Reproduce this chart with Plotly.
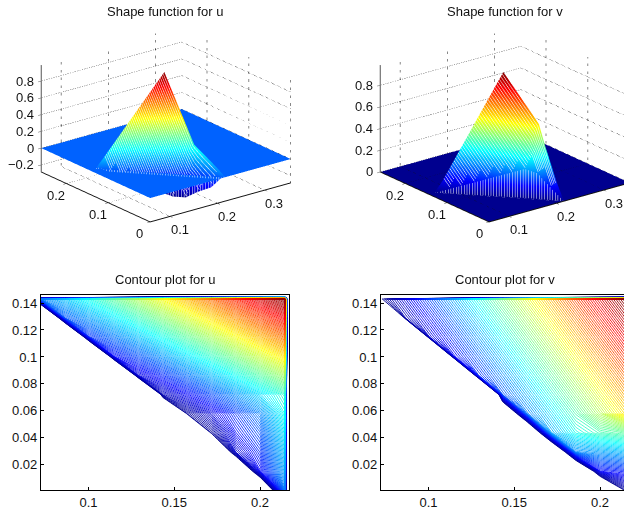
import plotly.graph_objects as go

W, H = 680, 517
JET = [[0, "rgb(0,0,143)"], [0.125, "rgb(0,0,255)"], [0.375, "rgb(0,255,255)"],
       [0.625, "rgb(255,255,0)"], [0.875, "rgb(255,0,0)"], [1, "rgb(128,0,0)"]]

# grid nodes
x_nodes = [0.0723, 0.0865, 0.1007, 0.1149, 0.1291, 0.1433, 0.1575, 0.1717, 0.1859, 0.2001, 0.2145]
y_nodes = [0.001, 0.0152, 0.0294, 0.0436, 0.058, 0.072, 0.0862, 0.1004, 0.1146, 0.1288, 0.143]
x_edge, y_edge = 0.2166, 0.1458
N = None

# rows run bottom to top, None = outside the triangle
u_table = [
    [N, N, N, N, N, N, N, N, N, N, 0.02],
    [N, N, N, N, N, N, N, N, N, -0.13, 0.07],
    [N, N, N, N, N, N, N, N, -0.19, -0.08, 0.11],
    [N, N, N, N, N, N, N, -0.27, -0.12, -0.03, 0.15],
    [N, N, N, N, N, N, -0.27, -0.17, -0.07, 0.03, 0.19],
    [N, N, N, N, N, -0.225, -0.134, -0.043, 0.048, 0.139, 0.23],
    [N, N, N, N, -0.176, -0.085, 0.006, 0.097, 0.188, 0.279, 0.37],
    [N, N, N, -0.127, -0.036, 0.055, 0.146, 0.237, 0.328, 0.419, 0.51],
    [N, N, -0.078, 0.013, 0.104, 0.195, 0.286, 0.377, 0.468, 0.559, 0.65],
    [N, -0.029, 0.062, 0.153, 0.244, 0.335, 0.426, 0.517, 0.608, 0.699, 0.79],
    [0.02, 0.111, 0.202, 0.293, 0.384, 0.475, 0.566, 0.657, 0.748, 0.839, 0.93],
]
v_table = [
    [N, N, N, N, N, N, N, N, N, N, 0.01],
    [N, N, N, N, N, N, N, N, N, 0.121, 0.146],
    [N, N, N, N, N, N, N, N, 0.242, 0.267, 0.292],
    [N, N, N, N, N, N, N, 0.273, 0.367, 0.414, 0.439],
    [N, N, N, N, N, N, 0.234, 0.328, 0.422, 0.516, 0.61],
    [N, N, N, N, N, 0.195, 0.289, 0.383, 0.477, 0.571, 0.665],
    [N, N, N, N, 0.156, 0.25, 0.344, 0.438, 0.532, 0.626, 0.72],
    [N, N, N, 0.117, 0.211, 0.305, 0.399, 0.493, 0.587, 0.681, 0.775],
    [N, N, 0.078, 0.172, 0.266, 0.36, 0.454, 0.548, 0.642, 0.736, 0.83],
    [N, 0.039, 0.133, 0.227, 0.321, 0.415, 0.509, 0.603, 0.697, 0.791, 0.885],
    [0.0, 0.094, 0.188, 0.282, 0.376, 0.47, 0.564, 0.658, 0.752, 0.846, 0.94],
]
# outside nodes (column, row) beside the notches on the slanted edge
notch_nodes = [(5, 4), (6, 3), (7, 2), (8, 1), (9, 0)]

x_range_3d = [0.058, 0.355]
y_range_3d = [0.0, 0.26]
z_range_u = [-0.284, 0.99]
z_range_v = [0.0, 0.986]
x_ticks_3d = [0.1, 0.2, 0.3]
y_ticks_3d = [0, 0.1, 0.2]
z_ticks_u = [-0.2, 0, 0.2, 0.4, 0.6, 0.8]
z_ticks_v = [0, 0.2, 0.4, 0.6, 0.8]
contour_x_ticks = [0.1, 0.15, 0.2]
contour_y_ticks = [0.02, 0.04, 0.06, 0.08, 0.1, 0.12, 0.14]
titles = ["Shape function for u", "Shape function for v", "Contour plot for u", "Contour plot for v"]

FONT = "Liberation Sans, Arial, sans-serif"
fig = go.Figure()
LIGHT = dict(ambient=1, diffuse=0, specular=0, fresnel=0)


def px_x(a):
    return a / W


def px_y(a):
    return 1 - a / H


def add_surface(table, cmin, cmax, scene):
    xa, xb = x_range_3d
    ya, yb = y_range_3d
    # nodes: outer border, table nodes, edge strip, outer border
    xs = [xa] + x_nodes + [x_edge, xb]
    ys = [ya] + y_nodes + [y_edge, yb]
    nx, ny = len(xs), len(ys)
    X, Y, Z, ok = [], [], [], []
    for iy in range(ny):
        for ix in range(nx):
            X.append(xs[ix])
            Y.append(ys[iy])
            inner = 1 <= ix <= 11 and 1 <= iy <= 11
            edge = (ix == 12 and 1 <= iy <= 12) or (iy == 12 and 1 <= ix <= 12)
            v = table[iy - 1][ix - 1] if inner else (0 if edge else None)
            ok.append(v is not None)
            Z.append(0 if v is None else v)
    I, J, K, PI, PJ, PK = [], [], [], [], [], []
    for iy in range(ny - 1):
        for ix in range(nx - 1):
            a = iy * nx + ix
            b = a + 1
            d = a + nx
            c = d + 1
            for t in ((a, b, d), (b, c, d)):
                if all(ok[q] for q in t):
                    I.append(t[0])
                    J.append(t[1])
                    K.append(t[2])
                else:
                    PI.append(t[0])
                    PJ.append(t[1])
                    PK.append(t[2])
    # flat sheet around the triangle
    fig.add_trace(go.Mesh3d(x=X, y=Y, z=[0] * len(X), i=PI, j=PJ, k=PK, intensity=[0] * len(X), colorscale=JET,
                            cmin=cmin, cmax=cmax, showscale=False, lighting=LIGHT, hoverinfo="skip", scene=scene))
    # tent
    fig.add_trace(go.Mesh3d(x=X, y=Y, z=Z, i=I, j=J, k=K, intensity=Z, colorscale=JET, cmin=cmin, cmax=cmax,
                            showscale=False, lighting=LIGHT, hoverinfo="skip", scene=scene))
    white = dict(show=True, color="white", width=1, start=0.05, end=0.36, size=0.003)
    fig.add_trace(go.Surface(x=x_nodes, y=y_nodes, z=table, hidesurface=True, showscale=False,
                             contours=dict(x=white), hoverinfo="skip", scene=scene,
                             lighting=dict(ambient=1, diffuse=0, specular=0)))
    # curtain from the slanted edge to the sheet
    cx, cy, cz = [], [], []
    for i in range(11):
        cx.append([x_nodes[i], x_nodes[i]])
        cy.append([y_nodes[10 - i], y_nodes[10 - i]])
        cz.append([table[10 - i][i], 0])
    fig.add_trace(go.Surface(x=cx, y=cy, z=cz, surfacecolor=cz, colorscale=JET, cmin=cmin, cmax=cmax, showscale=False,
                             contours=dict(x=white), hoverinfo="skip", scene=scene,
                             lighting=dict(ambient=1, diffuse=0, specular=0)))


def add_grid(zticks, zrange, scene):
    xa, xb = x_range_3d
    ya, yb = y_range_3d
    za, zb = zrange
    segs = []
    for t in x_ticks_3d:
        segs.append(([t, t], [ya, yb], [za, za]))
        segs.append(([t, t], [yb, yb], [za, zb]))
    for t in y_ticks_3d:
        segs.append(([xa, xb], [t, t], [za, za]))
        segs.append(([xb, xb], [t, t], [za, zb]))
    for t in zticks:
        segs.append(([xa, xb], [yb, yb], [t, t]))
        segs.append(([xb, xb], [ya, yb], [t, t]))
    for sx, sy, sz in segs:
        fig.add_trace(go.Scatter3d(x=sx, y=sy, z=sz, mode="lines",
                                   line=dict(color="#111111", width=1, dash="dot"),
                                   hoverinfo="skip", showlegend=False, scene=scene))


add_grid(z_ticks_u, z_range_u, "scene")
add_surface(u_table, -0.27, 0.94, "scene")
add_grid(z_ticks_v, z_range_v, "scene2")
add_surface(v_table, 0.0, 0.94, "scene2")


def add_contour(table, zmin, start, notch, xaxis, yaxis):
    xs = x_nodes + [x_edge]
    ys = y_nodes + [y_edge]
    z = [[-1 if v is None else v for v in row] + [-1] for row in table] + [[-1] * len(xs)]
    for c, r in notch_nodes:
        z[r][c] = notch
    fig.add_trace(go.Contour(x=xs, y=ys, z=z, zmin=zmin, zmax=0.94, autocontour=False,
                             contours=dict(coloring="lines", start=start, end=0.94, size=0.009, showlabels=False),
                             line=dict(width=0.9, smoothing=0), colorscale=JET, showscale=False,
                             hoverinfo="skip", xaxis=xaxis, yaxis=yaxis))


add_contour(u_table, -0.30, -0.28, -0.6, "x", "y")
add_contour(v_table, 0.0, 0.005, -0.3, "x2", "y2")


def axis3d(rng, ticks, color="#111111"):
    return dict(range=rng, tickvals=ticks, title=dict(text=""), showbackground=False,
                showgrid=False, zeroline=False, showspikes=False, showline=True, linecolor=color,
                linewidth=2, ticks="outside", ticklen=4, tickcolor=color, showticklabels=False)


camera = dict(eye=dict(x=-1.72, y=-2.21, z=1.07), up=dict(x=0, y=0, z=1), center=dict(x=0, y=0, z=0),
              projection=dict(type="orthographic"))
aspect = dict(x=1.437, y=1.43, z=0.9226)


def fmt(v):
    return ("\u2212" if v < 0 else "") + f"{abs(v):g}"


def tick_notes(zr, zt):
    font = dict(family=FONT, size=13, color="#111111")
    notes = []
    for t in x_ticks_3d:
        notes.append(dict(x=t, y=y_range_3d[0], z=zr[0], text=fmt(t), showarrow=False, font=font,
                          xshift=10, yshift=-13))
    for t in y_ticks_3d:
        notes.append(dict(x=x_range_3d[0], y=t, z=zr[0], text=fmt(t), showarrow=False, font=font,
                          xshift=-10, yshift=-12))
    for t in zt:
        notes.append(dict(x=x_range_3d[0], y=y_range_3d[1], z=t, text=fmt(t), showarrow=False, font=font,
                          xanchor="right", xshift=-5, yshift=0))
    return notes


def scene(cx, zr, zt):
    return dict(domain=dict(x=[px_x(cx - 165), px_x(cx + 165)], y=[px_y(248), px_y(0)]),
                xaxis=axis3d(x_range_3d, x_ticks_3d),
                yaxis=axis3d(y_range_3d, y_ticks_3d),
                zaxis=axis3d(zr, zt, "#555555"),
                annotations=tick_notes(zr, zt),
                camera=camera, aspectmode="manual", aspectratio=aspect)


def ax2d(dom, rng, ticks, anchor):
    return dict(domain=dom, range=rng, tickvals=ticks, ticktext=[f"{t:g}" for t in ticks], anchor=anchor,
                showgrid=False, zeroline=False, showline=True, mirror=True, linecolor="black", linewidth=1.2,
                ticks="inside", ticklen=3, tickcolor="black",
                tickfont=dict(family=FONT, size=13, color="#111111"))


ydom = [px_y(490.3), px_y(294.7)]
xrange_c = [0.0723, 0.2166]
yrange_c = [0.001, 0.1462]
fig.update_layout(
    width=W, height=H, margin=dict(l=0, r=0, t=0, b=0), paper_bgcolor="white", plot_bgcolor="white",
    showlegend=False,
    scene=scene(165.5, z_range_u, z_ticks_u), scene2=scene(505, z_range_v, z_ticks_v),
    xaxis=ax2d([px_x(41), px_x(288.5)], xrange_c, contour_x_ticks, "y"),
    yaxis=ax2d(ydom, yrange_c, contour_y_ticks, "x"),
    xaxis2=ax2d([px_x(381), px_x(628.5)], xrange_c, contour_x_ticks, "y2"),
    yaxis2=ax2d(ydom, yrange_c, contour_y_ticks, "x2"),
)
pos = [(165, 12), (505, 12), (165, 279), (505, 279)]
for t, (a, b) in zip(titles, pos):
    fig.add_annotation(x=px_x(a), y=px_y(b), xref="paper", yref="paper", text=t, showarrow=False,
                       font=dict(family=FONT, size=13, color="#111111"), xanchor="center", yanchor="middle")

fig.write_html("out.html", post_script="document.body.style.margin='0';document.body.style.overflow='hidden';",
               config=dict(displayModeBar=False))
